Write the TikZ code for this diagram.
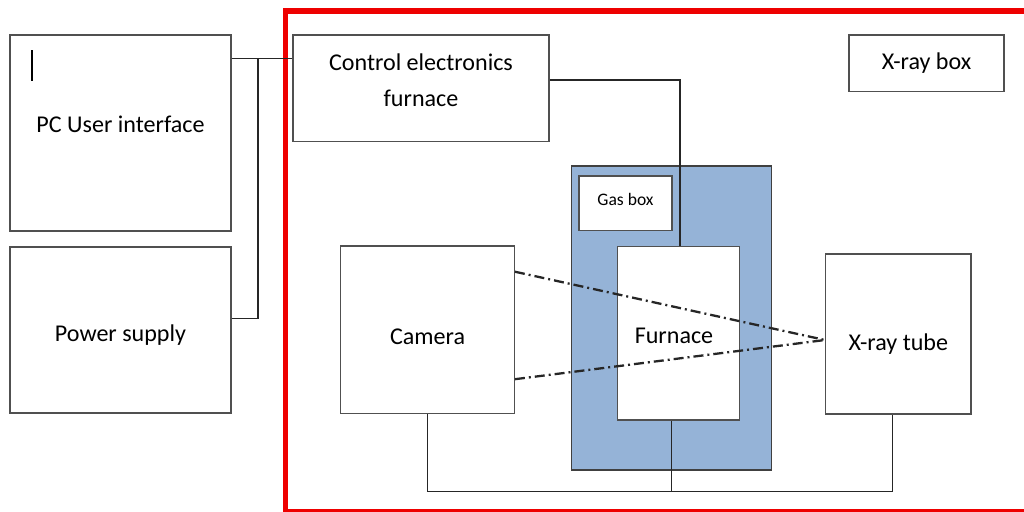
\documentclass[tikz,border=0pt]{standalone}
\usepackage{fontspec}
\setmainfont{Carlito}
\usepackage{tikz}
\usetikzlibrary{positioning,calc}
\usepackage{xcolor}
\definecolor{cGas}{RGB}{149,179,215}
\definecolor{cLine}{RGB}{80,80,80}
\definecolor{cFrame}{RGB}{238,0,0}
\tikzset{
  basebox/.style={rectangle,draw=cLine,line width=0.8pt,fill=white,
                  inner sep=0pt},
  gasnode/.style={basebox,fill=cGas,draw=cLine!80!black},
  boxtext/.style={font=\fontsize{13.7}{20.5}\selectfont,align=center},
  smalltext/.style={font=\fontsize{10}{12}\selectfont,align=center},
  wire/.style={draw=black!85,line width=0.7pt},
  beam/.style={draw=black!85,line width=1.3pt,
               dash pattern=on 0.2cm off 0.08cm on 0.04cm off 0.08cm},
  framebox/.style={draw=cFrame,line width=2.85pt}
}

\begin{document}
\begin{tikzpicture}[x=0.02cm,y=-0.02cm,every label/.style={boxtext}]

  \useasboundingbox (0,0) rectangle (1024,511);
  \clip (0,0) rectangle (1024,511);

  % X-ray box frame
  \draw[framebox] (285.7,11) rectangle (1045,511.8);

  % Outside the box
  \node[basebox,minimum width=4.42cm,minimum height=3.92cm,
        label={[yshift=0.18cm]center:PC User interface}] (pc) at (120.5,133) {};
  \draw[black,line width=1.3pt] (31.7,50) -- (31.7,80.7);
  \node[basebox,minimum width=4.42cm,minimum height=3.32cm,
        label={[yshift=-0.11cm]center:Power supply}] (power) at (120.5,330) {};

  % Inside the box
  \node[basebox,minimum width=5.12cm,minimum height=2.13cm,
        label={[yshift=0.17cm]center:Control electronics\\furnace}] (ctrl) at (421,88.3) {};
  \node[basebox,minimum width=3.1cm,minimum height=1.13cm,
        label={center:X-ray box}] (xraybox) at (926.5,63.3) {};

  \node[gasnode,minimum width=4cm,minimum height=6.08cm] (gasbg) at (671.7,318) {};
  \node[basebox,minimum width=1.86cm,minimum height=1.09cm,
        label={[smalltext,yshift=0.08cm]center:Gas box}] (gas) at (625.5,203.3) {};
  \node[basebox,minimum width=2.43cm,minimum height=3.47cm,
        label={[xshift=-0.09cm,yshift=-0.05cm]center:Furnace}] (furnace) at (678.5,333.3) {};

  \node[basebox,minimum width=3.47cm,minimum height=3.35cm,
        label={[yshift=-0.14cm]center:Camera}] (camera) at (427.5,329.7) {};
  \node[basebox,minimum width=2.91cm,minimum height=3.2cm,
        label={[yshift=-0.2cm]center:X-ray tube}] (tube) at (898.3,334) {};

  % Wires
  \coordinate (bus) at (258,58.7);
  \coordinate (psin) at (258,318.7);
  \draw[wire] (pc.east |- bus) -- (ctrl.west |- bus);
  \draw[wire] (bus) -- (psin) -- (power.east |- psin);

  \coordinate (cf) at (680,80);
  \draw[wire] (ctrl.east |- cf) -- (cf) -- (furnace.north -| cf);

  \coordinate (base) at (671.7,491.7);
  \coordinate (tubeout) at (892.7,491.7);
  \draw[wire] (camera.south) -- (camera.south |- base) -- (tubeout)
      -- (tube.south -| tubeout);
  \draw[wire] (furnace.south -| base) -- (base);

  % Beams
  \coordinate (focus) at (825,340);
  \draw[beam] ([yshift=1.16cm]camera.east) -- (focus);
  \draw[beam] ([yshift=-0.99cm]camera.east) -- (focus);

\end{tikzpicture}
\end{document}
